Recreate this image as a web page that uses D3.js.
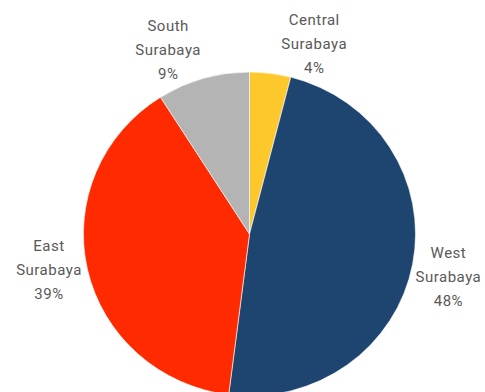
<!DOCTYPE html>
<html>
<head>
<meta charset="utf-8">
<title>Surabaya share</title>
<script src="https://d3js.org/d3.v7.min.js"></script>
<style>
    body { margin: 0; background: #ffffff; }
    #chart text { font-family: Roboto, "DejaVu Sans", sans-serif; font-size: 15px; letter-spacing: 0.5px; fill: #595959; }
</style>
</head>
<body>
<div id="chart"></div>
<script>
    // slices, clockwise from 12 o'clock
    var regions = ["Central", "West", "East", "South"];
    var shares = [4, 48, 39, 9];
    var colors = ["#FDC82C", "#1E4570", "#FF2A00", "#B4B4B4"];

    var width = 485, height = 392;
    var cx = 249.5, cy = 234;
    var radius = 162;
    var stretch = 1.025;      // the original pie is a touch wider than tall
    var labelRadius = 199;
    var labelTurn = 2 * Math.PI / 180;   // labels sit a little clockwise of the mid angle
    var lineGap = 24;

    var svg = d3.select("#chart").append("svg")
        .attr("width", width)
        .attr("height", height);

    var data = regions.map(function (r, i) { return { name: r, value: shares[i], color: colors[i] }; });

    var pie = d3.pie().sort(null).value(function (d) { return d.value; });
    var arcs = pie(data);

    var arc = d3.arc().innerRadius(0).outerRadius(radius);

    var g = svg.append("g")
        .attr("transform", "translate(" + cx + "," + cy + ") scale(" + stretch + ",1)");

    g.selectAll("path")
        .data(arcs)
        .enter().append("path")
        .attr("d", arc)
        .attr("fill", function (d) { return d.data.color; })
        .attr("stroke", "#ffffff")
        .attr("stroke-width", 0.6);

    // label angle = mid angle, but spread neighbours that are too close (like excel best fit)
    var angles = arcs.map(function (d) {
        var a = (d.startAngle + d.endAngle) / 2;
        if (a > Math.PI) a -= 2 * Math.PI;
        return a;
    });
    var minGap = 42 * Math.PI / 180;
    var last = angles.length - 1;
    if (Math.abs(angles[0] - angles[last]) < minGap) {
        var mid = (angles[0] + angles[last]) / 2;
        angles[0] = mid + minGap / 2;
        angles[last] = mid - minGap / 2;
    }
    angles = angles.map(function (a) { return a + labelTurn; });

    var labels = svg.selectAll("g.label")
        .data(arcs)
        .enter().append("g")
        .attr("class", "label")
        .attr("transform", function (d, i) {
            var x = cx + stretch * labelRadius * Math.sin(angles[i]);
            var y = cy - labelRadius * Math.cos(angles[i]);
            return "translate(" + x + "," + y + ")";
        });

    labels.each(function (d) {
        var lines = [d.data.name, "Surabaya", d.data.value + "%"];
        d3.select(this).selectAll("text")
            .data(lines)
            .enter().append("text")
            .attr("text-anchor", "middle")
            .attr("dominant-baseline", "middle")
            .attr("y", function (t, j) { return (j - 1) * lineGap; })
            .text(function (t) { return t; });
    });
</script>
</body>
</html>
